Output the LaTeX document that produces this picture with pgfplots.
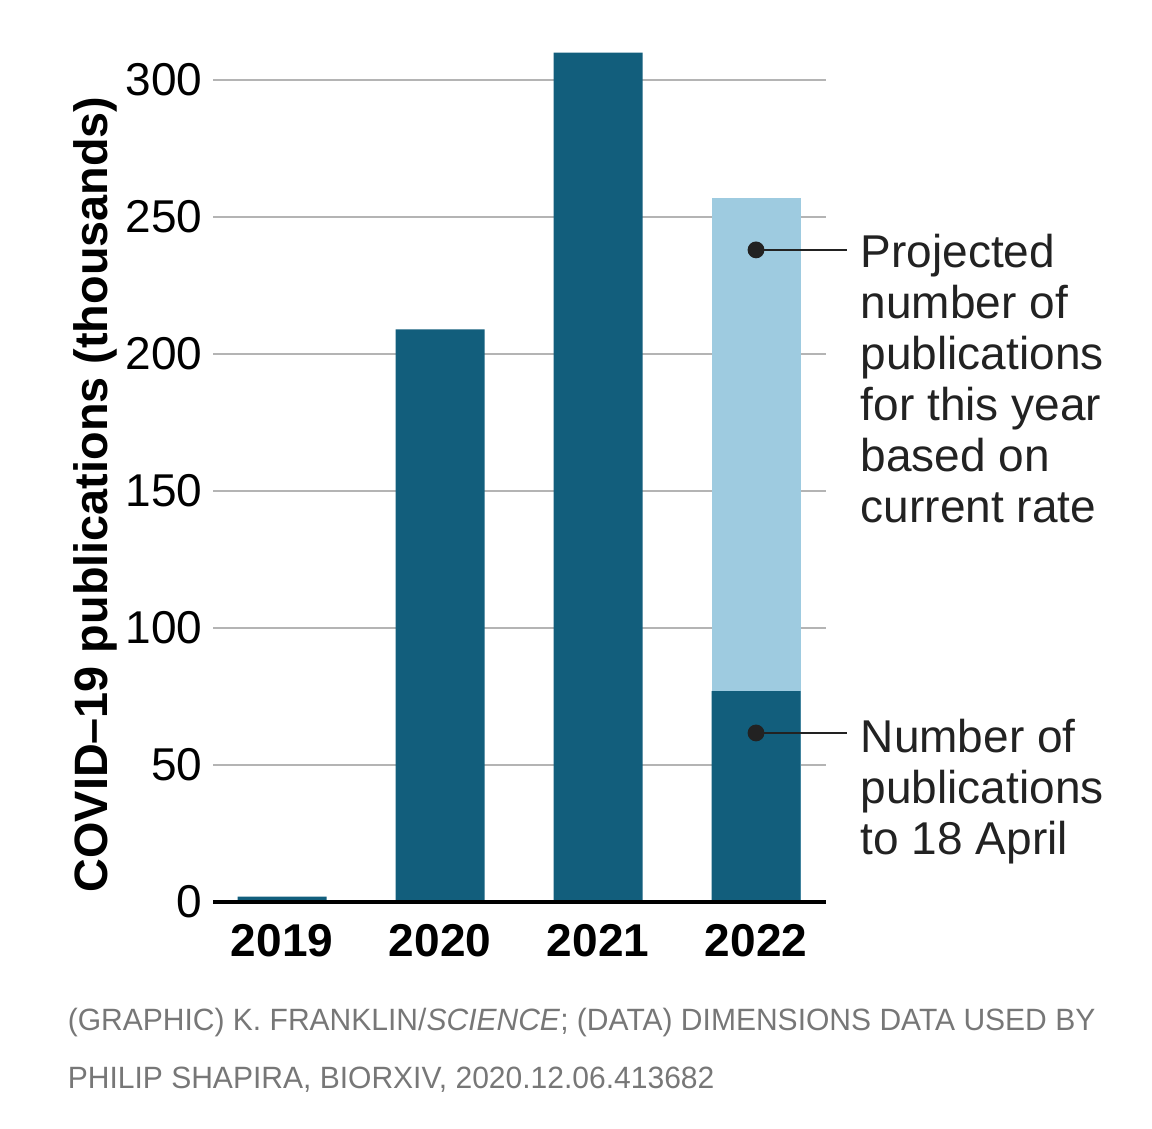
\documentclass[border=0pt]{standalone}
\usepackage{pgfplots}
\pgfplotsset{compat=1.18}
\usepackage{fontspec}
\setmainfont{Liberation Sans}
\newfontfamily\condfont[FakeStretch=0.975]{Liberation Sans}
\definecolor{darkbar}{HTML}{125E7C}
\definecolor{lightbar}{HTML}{9ECBE0}
\definecolor{gridc}{HTML}{B4B4B4}
\definecolor{foot}{HTML}{777777}
\definecolor{annot}{HTML}{222222}
\begin{document}
\begin{tikzpicture}
\path[use as bounding box] (0,0) rectangle (288pt,282pt);
\begin{axis}[
  at={(53.25pt,56.5pt)}, anchor=south west,
  scale only axis, width=153.25pt, height=219.2pt,
  xmin=-0.437, xmax=3.443, ymin=0, ymax=320,
  axis x line=bottom, axis y line=left,
  axis line style={draw=none},
  major tick length=0pt,
  ytick={0,50,100,150,200,250,300},
  xtick={0,1,2,3}, xticklabels={2019,2020,2021,2022},
  ymajorgrids, grid style={gridc, line width=0.35pt},
  /pgf/number format/assume math mode=true,
  yticklabel style={font=\fontsize{11.5}{12}\selectfont, anchor=east, inner sep=0pt, xshift=-2.5pt},
  xticklabel style={font=\fontsize{11.5}{12}\selectfont\bfseries, anchor=north, inner sep=0pt, yshift=-5.5pt},
  clip=false,
  ybar, bar width=22.25pt, bar shift=0pt,
]
\addplot[fill=lightbar, draw=none] coordinates {(3,257)};
\addplot[fill=darkbar, draw=none] coordinates {(0,2) (1,209) (2,310) (3,77)};
\addplot[sharp plot, black, line width=1.2pt, mark=none] coordinates {(-0.437,0) (3.443,0)};
\addplot[sharp plot, annot, line width=0.6pt, mark=none] coordinates {(3,238) (3.576,238)};
\addplot[sharp plot, annot, line width=0.6pt, mark=none] coordinates {(3,61.7) (3.576,61.7)};
\addplot[only marks, mark=*, mark size=1.9pt, annot] coordinates {(3,238) (3,61.7)};
\end{axis}
\node[rotate=90, anchor=base, inner sep=0pt, font=\fontsize{11.7}{14}\selectfont\bfseries] at (26.75pt,158.4pt) {COVID–19 publications (thousands)};
\begin{scope}[every node/.style={anchor=base west, inner sep=0pt, text=annot, font=\fontsize{11.5}{12.75}\selectfont}]
\node at (215pt,215.25pt) {Projected};
\node at (215pt,202.5pt) {number of};
\node at (215pt,189.75pt) {publications};
\node at (215pt,177pt) {for this year};
\node at (215pt,164.25pt) {based on};
\node at (215pt,151.5pt) {current rate};
\node at (215pt,94pt) {Number of};
\node at (215pt,81.25pt) {publications};
\node at (215pt,68.5pt) {to 18 April};
\end{scope}
\begin{scope}[every node/.style={anchor=base west, inner sep=0pt, text=foot, font=\condfont\fontsize{7.7}{9}\selectfont}]
\node at (16.75pt,24.5pt) {(GRAPHIC) K. FRANKLIN/\textit{SCIENCE}; (DATA) DIMENSIONS DATA USED BY};
\node at (16.75pt,10pt) {PHILIP SHAPIRA, BIORXIV, 2020.12.06.413682};
\end{scope}
\end{tikzpicture}
\end{document}
